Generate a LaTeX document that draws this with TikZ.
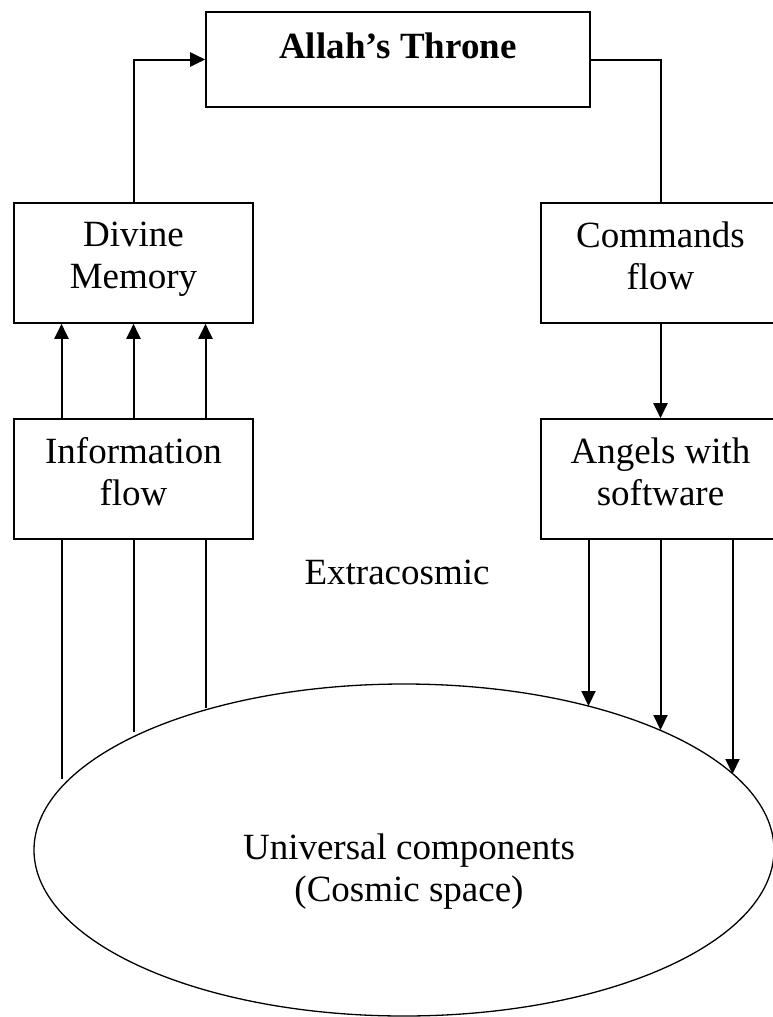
\documentclass[tikz,border=0pt]{standalone}
\usepackage{fontspec}
\setmainfont{Liberation Serif}
\usepackage{tikz}
\usetikzlibrary{shapes.geometric, % for the ellipse
                arrows.meta} % for triangle tips

\newcommand{\lowstrut}[1]{\rule[-#1]{0pt}{0pt}}

\begin{document}
\begin{tikzpicture}[x=1pt, y=-1pt,
                    every node/.style={font=\fontsize{37}{42}\selectfont},
                    Box/.style={draw, line width=1.6pt, rectangle, inner sep=0pt, align=center,
                                minimum width=239pt, minimum height=120pt},
                    flow/.style={-{Triangle[length=15pt, width=14pt]}, line width=2pt},
                    plainline/.style={line width=2pt}
                    ]

    \useasboundingbox (0,0) rectangle (773,1017);

    % THRONE %
    \node[draw, line width=1.6pt, inner sep=0pt, minimum width=384pt, minimum height=95pt,
          text height=25.3pt, text depth=28.3pt, font=\fontsize{37}{42}\selectfont\bfseries]
          (throne) at (398,59.5) {Allah’s Throne};

    % LEFT SIDE %
    \node[Box] (memory) at (133.5,263) {Divine\\Memory\lowstrut{15pt}};
    \node[Box] (info)   at (133.5,479) {Information\\flow\lowstrut{15pt}};

    % RIGHT SIDE %
    \node[Box] (commands) at (660.5,263) {Commands\\flow\lowstrut{15pt}};
    \node[Box] (angels)   at (660.5,479) {Angels with\\software\lowstrut{15pt}};

    % COSMOS %
    \node[draw, ellipse, line width=1.3pt, inner sep=0pt,
          minimum width=740pt, minimum height=332pt] (cosmos) at (404,850) {};
    \node[align=center] (cosmostext) at (409,872) {Universal components\\(Cosmic space)};

    \node[inner sep=0pt] (extra) at (397,572) {Extracosmic};

    % free ends of the vertical lines %
    \coordinate (up1) at (61.5,779);
    \coordinate (up2) at (133.5,732);
    \coordinate (up3) at (205.5,708);
    \coordinate (down1) at (588.5,706);
    \coordinate (down2) at (660.5,730);
    \coordinate (down3) at (732.5,774);

    % CONNECTORS %
    \draw[flow] (memory.north) |- (throne.west);
    \draw[plainline] (throne.east) -| (commands.north);
    \draw[flow] (commands.south) -- (angels.north);

    \foreach \dx in {-72,0,72}
    \draw[flow] ([xshift=\dx pt]info.north) -- ([xshift=\dx pt]memory.south);

    \foreach \n in {1,2,3}
    \draw[plainline] (info.south -| up\n) -- (up\n);

    \foreach \n in {1,2,3}
    \draw[flow] (angels.south -| down\n) -- (down\n);

\end{tikzpicture}
\end{document}
